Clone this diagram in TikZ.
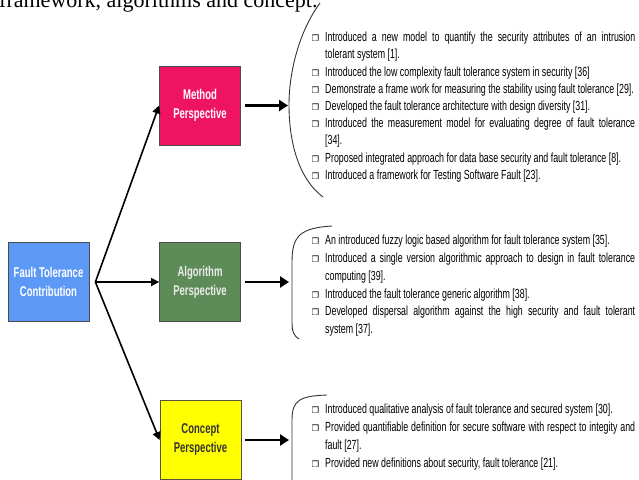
\documentclass[tikz,border=0pt]{standalone}
\usepackage{fontspec}
\setmainfont{Liberation Serif}
\newfontfamily\narrow[FakeStretch=0.67]{Liberation Sans}
\newfontfamily\dingfont{DejaVu Sans}
\usetikzlibrary{positioning, arrows.meta}

\definecolor{methodred}{RGB}{238,20,98}
\definecolor{algogreen}{RGB}{94,140,88}
\definecolor{ftcblue}{RGB}{92,152,246}
\definecolor{conceptyellow}{RGB}{255,255,0}

\newcommand{\bul}{\llap{{\dingfont\fontsize{8.5}{8.5}\selectfont ❐}\hspace{6pt}}}
\newcommand{\jline}[1]{\makebox[310pt][s]{#1}}

\begin{document}
\begin{tikzpicture}[x=1pt, y=-1pt,
    persp/.style={draw=black!70, line width=0.8pt, minimum width=81pt, minimum height=79pt,
      inner sep=0pt, align=center, font=\narrow\bfseries\fontsize{14.2}{19}\selectfont},
    bigarrow/.style={-{Triangle[length=9pt,width=11pt]}, line width=2.4pt},
    thinarrow/.style={-{Triangle[length=8pt,width=8pt]}, line width=1.6pt},
    brace/.style={line width=0.9pt, black!80},
    items/.style={anchor=north west, inner sep=0pt, align=left,
      font=\narrow\fontsize{13.2}{#1}\selectfont}]
  \clip (0,0) rectangle (639,479);

  % caption line cut off above
  \node[anchor=base west, inner sep=0pt, font=\fontsize{22}{22}\selectfont] (caption) at (-1,7.5)
    {framework, algorithms and concept.};

  % Boxes
  \node[persp, fill=ftcblue, text=white] (ftc) at (48.5,282) {Fault Tolerance\\Contribution};
  \node[persp, fill=methodred, text=white] (method) at (200,105.5) {Method\\Perspective};
  \node[persp, fill=algogreen, text=white!92!black] (algo) at (200,282) {Algorithm\\Perspective};
  \node[persp, fill=conceptyellow, text=black!80, draw=black!60!yellow!60!black] (concept) at (200.5,440) {Concept\\Perspective};

  % Branches
  \coordinate[right=6pt of ftc] (split);
  \draw[thinarrow] (split) -- (method.west);
  \draw[thinarrow] (split) -- (algo.west);
  \draw[thinarrow] (split) -- (concept.west);

  % Braces
  \draw[brace] (320,3) .. controls (300,30) and (289,70) .. (289,105)
    .. controls (289,145) and (300,180) .. (323,197);
  \draw[brace] (332,226) .. controls (300,228) and (292,236) .. (292,262) -- (292,322)
    .. controls (292,332) and (294,336) .. (299,339);
  \draw[brace] (327,395) .. controls (300,396) and (292,400) .. (292,420) -- (292,480);

  % Arrows to braces
  \coordinate (mtip) at (288,105.5);
  \coordinate (atip) at (289,282);
  \coordinate (ctip) at (289,440);
  \draw[bigarrow, shorten <=4pt] (method) -- (mtip);
  \draw[bigarrow, shorten <=4pt] (algo) -- (atip);
  \draw[bigarrow, shorten <=4pt] (concept) -- (ctip);

  % Lists
  \node[items=17.2] (mlist) at (325,32) {%
    \bul\jline{Introduced a new model to quantify the security attributes of an intrusion}\\
    tolerant system [1].\\
    \bul Introduced the low complexity fault tolerance system in security [36]\\
    \bul Demonstrate a frame work for measuring the stability using fault tolerance [29].\\
    \bul Developed the fault tolerance architecture with design diversity [31].\\
    \bul\jline{Introduced the measurement model for evaluating degree of fault tolerance}\\
    {}[34].\\
    \bul Proposed integrated approach for data base security and fault tolerance [8].\\
    \bul Introduced a framework for Testing Software Fault [23].};

  \node[items=17.8] (alist) at (325,235) {%
    \bul An introduced fuzzy logic based algorithm for fault tolerance system [35].\\
    \bul\jline{Introduced a single version algorithmic approach to design in fault tolerance}\\
    computing [39].\\
    \bul Introduced the fault tolerance generic algorithm [38].\\
    \bul\jline{Developed dispersal algorithm against the high security and fault tolerant}\\
    system [37].};

  \node[items=18] (clist) at (325,404) {%
    \bul Introduced qualitative analysis of fault tolerance and secured system [30].\\
    \bul\jline{Provided quantifiable definition for secure software with respect to integity and}\\
    fault [27].\\
    \bul Provided new definitions about security, fault tolerance [21].};
\end{tikzpicture}
\end{document}
